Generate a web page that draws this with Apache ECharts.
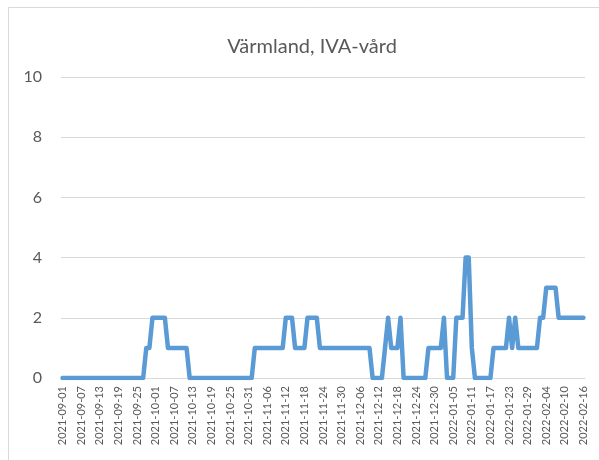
<!DOCTYPE html>
<html>
<head>
<meta charset="utf-8">
<script src="https://cdn.jsdelivr.net/npm/echarts@6/dist/echarts.min.js"></script>
<style>
  html, body { margin: 0; padding: 0; background: #fff; }
  #chart { width: 599px; height: 460px; }
</style>
</head>
<body>
<div id="chart"></div>
<script>
const chartTitle = 'Värmland, IVA-vård';
const startDate = '2021-09-01';
const yTicks = [0, 2, 4, 6, 8, 10];

// daily ICU counts, 2021-09-01 .. 2022-02-16
const ivaCount = [
  0, 0, 0, 0, 0, 0, 0, 0, 0, 0, 0, 0, 0, 0, 0, 0, 0, 0, 0, 0, 0, 0, 0, 0, 0, 0, 0,
  1, 1, 2, 2, 2, 2, 2, 1, 1, 1, 1, 1, 1, 1,
  0, 0, 0, 0, 0, 0, 0, 0, 0, 0, 0, 0, 0, 0, 0, 0, 0, 0, 0, 0, 0,
  1, 1, 1, 1, 1, 1, 1, 1, 1, 1, 2, 2, 2, 1, 1, 1, 1, 2, 2, 2, 2,
  1, 1, 1, 1, 1, 1, 1, 1, 1, 1, 1, 1, 1, 1, 1, 1, 1,
  0, 0, 0, 0, 1, 2, 1, 1, 1, 2,
  0, 0, 0, 0, 0, 0, 0, 0, 1, 1, 1, 1, 1, 2, 0, 0, 0,
  2, 2, 2, 4, 4, 1, 0, 0, 0, 0, 0, 0,
  1, 1, 1, 1, 1, 2, 1, 2, 1, 1, 1, 1, 1, 1, 1,
  2, 2, 3, 3, 3, 3, 2, 2, 2, 2, 2, 2, 2, 2, 2
];

// category labels: one per day
const dates = [];
{
  const d = new Date(startDate + 'T00:00:00Z');
  for (let i = 0; i < ivaCount.length; i++) {
    dates.push(d.toISOString().slice(0, 10));
    d.setUTCDate(d.getUTCDate() + 1);
  }
}

const textColor = '#595959';
const lineColor = '#d9d9d9';
const font = 'Lato, "Open Sans", sans-serif';

const myChart = echarts.init(document.getElementById('chart'), null, {renderer: 'canvas'});

const option = {
  animation: false,
  color: ['#5b9bd5'],
  title: {
    text: chartTitle,
    left: 307,
    top: 32,
    textAlign: 'center',
    textStyle: {
      color: textColor,
      fontSize: 20,
      fontWeight: 'normal',
      fontFamily: font
    }
  },
  graphic: [
    {
      type: 'rect',
      shape: {x: 8.5, y: 7.5, width: 620, height: 470},
      style: {fill: 'none', stroke: lineColor, lineWidth: 1},
      silent: true
    }
  ],
  grid: {
    left: 61,
    right: 14,
    top: 77,
    bottom: 82
  },
  xAxis: {
    type: 'category',
    data: dates,
    boundaryGap: true,
    axisLine: {lineStyle: {color: lineColor, width: 1}},
    axisTick: {show: false},
    axisLabel: {
      interval: 5,
      rotate: 90,
      margin: 8,
      color: textColor,
      fontSize: 11,
      fontFamily: font
    }
  },
  yAxis: {
    type: 'value',
    min: yTicks[0],
    max: yTicks[yTicks.length - 1],
    interval: 2,
    axisLine: {show: false},
    axisTick: {show: false},
    splitLine: {lineStyle: {color: lineColor, width: 1}},
    axisLabel: {
      margin: 19,
      color: textColor,
      fontSize: 16,
      fontFamily: font
    }
  },
  series: [
    {
      type: 'line',
      data: ivaCount,
      showSymbol: false,
      lineStyle: {width: 4.5, cap: 'round', join: 'round'}
    }
  ]
};

myChart.setOption(option);
</script>
</body>
</html>
